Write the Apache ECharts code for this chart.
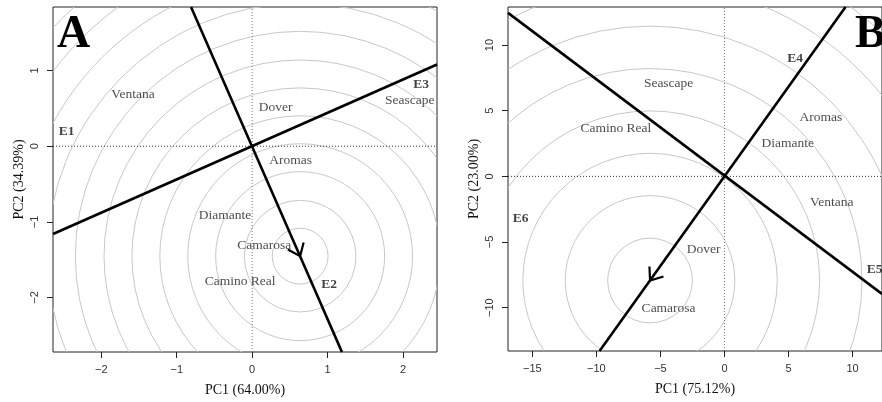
<!DOCTYPE html>
<html>
<head>
<meta charset="utf-8">
<script src="https://cdn.jsdelivr.net/npm/echarts@6/dist/echarts.min.js"></script>
<style>
  html, body { margin: 0; padding: 0; background: #fff; }
  #chart { width: 882px; height: 402px; }
</style>
</head>
<body>
<div id="chart"></div>
<script>
// ---- panel A ----
const xRangeA = [-2.64, 2.45];
const yRangeA = [-2.72, 1.84];
const xTicksA = [-2, -1, 0, 1, 2];
const yTicksA = [-2, -1, 0, 1];
const atcLineA = [[-2.64, -1.16], [2.45, 1.08]];
const aecLineA = [[-0.81, 1.84], [1.19, -2.72]];
const idealA = [0.636, -1.453];
const ringRadiiA = [0.37, 0.74, 1.12, 1.49, 1.86, 2.23, 2.60, 2.98, 3.35, 3.72, 4.09, 4.46, 4.84];
const genotypesA = ['Ventana', 'Dover', 'Seascape', 'Aromas', 'Diamante', 'Camarosa', 'Camino Real'];
const genoPosA = [[-1.58, 0.68], [0.31, 0.51], [2.09, 0.60], [0.51, -0.19], [-0.36, -0.92], [0.16, -1.31], [-0.16, -1.79]];
const envsA = ['E1', 'E3', 'E2'];
const envPosA = [[-2.46, 0.20], [2.24, 0.82], [1.02, -1.83]];

// ---- panel B ----
const xRangeB = [-16.9, 12.3];
const yRangeB = [-13.3, 12.9];
const xTicksB = [-15, -10, -5, 0, 5, 10];
const yTicksB = [-10, -5, 0, 5, 10];
const atcLineB = [[-16.9, 12.45], [12.3, -8.95]];
const aecLineB = [[-9.75, -13.3], [9.45, 12.9]];
const idealB = [-5.81, -7.93];
const ringRadiiB = [3.31, 6.62, 9.93, 13.24, 16.55, 19.86, 23.17, 26.48, 29.79];
const genotypesB = ['Seascape', 'Camino Real', 'Aromas', 'Diamante', 'Ventana', 'Dover', 'Camarosa'];
const genoPosB = [[-4.36, 7.05], [-8.48, 3.64], [7.52, 4.47], [4.95, 2.50], [8.38, -1.96], [-1.62, -5.53], [-4.36, -10.03]];
const envsB = ['E4', 'E6', 'E5'];
const envPosB = [[5.51, 8.94], [-15.92, -3.18], [11.73, -7.13]];

const serif = 'Liberation Serif';
const sans = 'Liberation Sans';

const minusFmt = v => (v < 0 ? '\u2212' + Math.abs(v) : String(v));

function makeXAxis(i, range, ticks, name) {
  return {
    type: 'value', gridIndex: i, min: range[0], max: range[1],
    splitLine: { show: false },
    axisLine: { show: false, onZero: false },
    axisTick: { show: true, length: 6, customValues: ticks, lineStyle: { color: '#222' } },
    axisLabel: { customValues: ticks, formatter: minusFmt, color: '#333', fontFamily: sans, fontSize: 11, margin: 12 },
    name: name, nameLocation: 'middle', nameGap: 31,
    nameTextStyle: { fontFamily: serif, fontSize: 14, color: '#111' }
  };
}

function makeYAxis(i, range, ticks, name) {
  return {
    type: 'value', gridIndex: i, min: range[0], max: range[1],
    splitLine: { show: false },
    axisLine: { show: false, onZero: false },
    axisTick: { show: true, length: 6, customValues: ticks, lineStyle: { color: '#222' } },
    axisLabel: { customValues: ticks, formatter: minusFmt, rotate: 90, color: '#333', fontFamily: sans, fontSize: 11, margin: 13 },
    name: name, nameLocation: 'middle', nameGap: 27,
    nameTextStyle: { fontFamily: serif, fontSize: 14, color: '#111' }
  };
}

function panelSeries(i, xr, yr, atc, aec, ideal, radii, genos, genoPos, envs, envPos) {
  const ax = { xAxisIndex: i, yAxisIndex: i };
  return [
    // concentric rings around the ideal point
    Object.assign({
      type: 'custom', clip: true, silent: true, z: 1,
      data: radii.map(r => [ideal[0], ideal[1], r]),
      encode: { x: 0, y: 1 },
      renderItem: (params, api) => {
        const c = api.coord([api.value(0), api.value(1)]);
        const r = api.size([api.value(2), 0])[0];
        return {
          type: 'circle',
          shape: { cx: c[0], cy: c[1], r: r },
          style: { fill: 'none', stroke: '#c8c8c8', lineWidth: 1 }
        };
      }
    }, ax),
    // dotted reference lines through the origin
    Object.assign({
      type: 'line', symbol: 'none', silent: true, z: 2,
      data: [[xr[0], 0], [xr[1], 0]],
      lineStyle: { color: '#333', width: 1, type: [1, 2] }
    }, ax),
    Object.assign({
      type: 'line', symbol: 'none', silent: true, z: 2,
      data: [[0, yr[0]], [0, yr[1]]],
      lineStyle: { color: '#777', width: 1, type: [1, 2] }
    }, ax),
    // ATC / AEC lines
    Object.assign({
      type: 'line', symbol: 'none', silent: true, z: 3,
      data: atc, lineStyle: { color: '#000', width: 2.6 }
    }, ax),
    Object.assign({
      type: 'line', symbol: 'none', silent: true, z: 3,
      data: aec, lineStyle: { color: '#000', width: 2.6 }
    }, ax),
    // arrow head at the ideal point
    Object.assign({
      type: 'custom', silent: true, z: 4,
      data: [[0, 0, ideal[0], ideal[1]]],
      encode: { x: [0, 2], y: [1, 3] },
      renderItem: (params, api) => {
        const p0 = api.coord([api.value(0), api.value(1)]);
        const p1 = api.coord([api.value(2), api.value(3)]);
        const ang = Math.atan2(p0[1] - p1[1], p0[0] - p1[0]);
        const len = 14, spread = 38 * Math.PI / 180;
        const a = [p1[0] + len * Math.cos(ang + spread), p1[1] + len * Math.sin(ang + spread)];
        const b = [p1[0] + len * Math.cos(ang - spread), p1[1] + len * Math.sin(ang - spread)];
        return {
          type: 'polyline',
          shape: { points: [a, p1, b] },
          style: { stroke: '#000', lineWidth: 2.2, fill: null }
        };
      }
    }, ax),
    // genotype labels
    Object.assign({
      type: 'scatter', symbolSize: 1, silent: true, z: 5,
      itemStyle: { color: 'rgba(0,0,0,0)' },
      data: genos.map((n, k) => ({ name: n, value: genoPos[k] })),
      label: { show: true, position: 'inside', formatter: '{b}', color: '#1a1a1a', fontFamily: serif, fontSize: 13.5 }
    }, ax),
    // environment labels
    Object.assign({
      type: 'scatter', symbolSize: 1, silent: true, z: 5,
      itemStyle: { color: 'rgba(0,0,0,0)' },
      data: envs.map((n, k) => ({ name: n, value: envPos[k] })),
      label: { show: true, position: 'inside', formatter: '{b}', color: '#111', fontFamily: serif, fontSize: 13.5, fontWeight: 'bold' }
    }, ax)
  ];
}

const chart = echarts.init(document.getElementById('chart'));

chart.setOption({
  animation: false,
  backgroundColor: '#fff',
  grid: [
    { left: 53, top: 7, width: 384, height: 345, show: true, borderColor: '#222', borderWidth: 1 },
    { left: 508, top: 7, width: 383, height: 344, show: true, borderColor: '#222', borderWidth: 1 }
  ],
  xAxis: [
    makeXAxis(0, xRangeA, xTicksA, 'PC1 (64.00%)'),
    makeXAxis(1, xRangeB, xTicksB, 'PC1 (75.12%)')
  ],
  yAxis: [
    makeYAxis(0, yRangeA, yTicksA, 'PC2 (34.39%)'),
    makeYAxis(1, yRangeB, yTicksB, 'PC2 (23.00%)')
  ],
  graphic: [
    { type: 'text', left: 57, top: 12, z: 10, style: { text: 'A', font: 'bold 46px "Liberation Serif"', fill: '#000' } },
    { type: 'text', left: 855, top: 12, z: 10, style: { text: 'B', font: 'bold 46px "Liberation Serif"', fill: '#000' } }
  ],
  series: [].concat(
    panelSeries(0, xRangeA, yRangeA, atcLineA, aecLineA, idealA, ringRadiiA, genotypesA, genoPosA, envsA, envPosA),
    panelSeries(1, xRangeB, yRangeB, atcLineB, aecLineB, idealB, ringRadiiB, genotypesB, genoPosB, envsB, envPosB)
  )
});

window.addEventListener('resize', () => chart.resize());
</script>
</body>
</html>
